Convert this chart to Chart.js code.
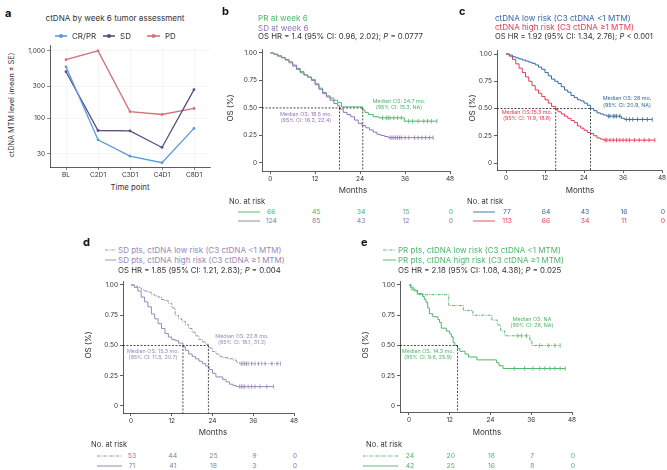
<!DOCTYPE html>
<html>
<head>
<meta charset="utf-8">
<script src="https://cdn.jsdelivr.net/npm/chart.js@4.4.0/dist/chart.umd.min.js"></script>
<style>
  body { margin: 0; width: 667px; height: 470px; overflow: hidden; position: relative; background: #fff;
         font-family: Inter, "DejaVu Sans", sans-serif; color: #333; }
  .t { position: absolute; white-space: nowrap; line-height: 1; }
  canvas, svg { position: absolute; }
</style>
</head>
<body>
<script>
// ---- panel a: ctDNA by week 6 tumor assessment ----
const timePoints = ['BL', 'C2D1', 'C3D1', 'C4D1', 'C8D1'];
const crprMean = [580, 48, 27.5, 22, 71];
const sdMean = [490, 66, 65, 37, 267];
const pdMean = [740, 1000, 126, 114, 140];
const mtmTicks = [30, 100, 300, 1000];

// ---- shared KM axes ----
const monthTicks = [0, 12, 24, 36, 48];
const osTicks = [0, 0.25, 0.5, 0.75, 1];

// ---- panel b: PR vs SD at week 6 ----
const bPrT = [0, 1, 2, 3, 4, 5, 6, 7, 8, 9, 10, 11, 12, 13, 14, 15, 16, 17, 18, 19, 24.7, 25.3, 26.2, 27.5, 29, 35.8];
const bPrS = [1, 0.985, 0.97, 0.955, 0.935, 0.91, 0.88, 0.85, 0.82, 0.8, 0.78, 0.76, 0.72, 0.68, 0.64, 0.61, 0.59, 0.57, 0.55, 0.51, 0.48, 0.46, 0.44, 0.42, 0.41, 0.38];
const bPrCens = [30, 31, 31.5, 32, 33, 34, 35, 37, 38, 39.5, 41, 42, 43, 44.5];
const bSdT = [0, 1, 2, 3, 4, 5, 6, 7, 8, 9, 10, 11, 12, 13, 14, 15, 16, 17, 18, 18.5, 19.5, 20.5, 21.5, 22.5, 23.5, 24.5, 25.5, 26.5, 27.5, 28.5, 29.5, 30.5, 31.5];
const bSdS = [1, 0.99, 0.975, 0.96, 0.94, 0.92, 0.89, 0.86, 0.83, 0.8, 0.78, 0.75, 0.71, 0.67, 0.63, 0.6, 0.57, 0.54, 0.52, 0.49, 0.46, 0.44, 0.42, 0.39, 0.36, 0.34, 0.32, 0.3, 0.28, 0.26, 0.25, 0.24, 0.23];
const bSdCens = [32, 32.5, 33, 33.5, 34, 34.5, 35, 36, 37, 38.5, 39.5, 40.5, 41.5, 42.5, 43.5];
const bMedians = [18.5, 24.7];
const bPrRisk = [66, 45, 34, 15, 0];
const bSdRisk = [124, 85, 43, 12, 0];

// ---- panel c: ctDNA low vs high risk ----
const cLowT = [0, 1, 2, 3, 4, 5, 6, 7, 8, 9, 10, 11, 12, 13, 14, 15, 16, 17, 18, 19, 20, 21, 22, 23, 24, 25, 26, 27, 28, 29, 30, 31, 35.5, 36.5];
const cLowS = [1, 0.99, 0.975, 0.965, 0.955, 0.945, 0.935, 0.925, 0.915, 0.9, 0.88, 0.86, 0.83, 0.8, 0.77, 0.75, 0.73, 0.7, 0.67, 0.65, 0.62, 0.6, 0.58, 0.57, 0.55, 0.53, 0.5, 0.48, 0.46, 0.45, 0.44, 0.43, 0.41, 0.4];
const cLowCens = [31.5, 32, 33, 33.5, 34, 35, 37, 38, 39, 40.5, 42, 43.5, 45];
const cHighT = [0, 1, 2, 3, 4, 5, 6, 7, 8, 9, 10, 11, 12, 13, 14, 15.3, 16, 17, 18, 19, 20, 21, 22, 23, 24, 25, 26, 27, 28, 29, 30];
const cHighS = [1, 0.98, 0.95, 0.91, 0.87, 0.83, 0.79, 0.75, 0.71, 0.67, 0.64, 0.61, 0.58, 0.55, 0.52, 0.49, 0.47, 0.45, 0.43, 0.41, 0.39, 0.37, 0.34, 0.32, 0.3, 0.28, 0.27, 0.25, 0.23, 0.22, 0.21];
const cHighCens = [30.5, 31, 32, 33, 34, 35, 36, 37, 38, 39.5, 41, 42.5, 44, 45.8];
const cMedians = [15.3, 26];
const cLowRisk = [77, 64, 43, 16, 0];
const cHighRisk = [113, 66, 34, 11, 0];

// ---- panel d: SD pts by ctDNA risk ----
const dLowT = [0, 1, 2, 3, 4, 5, 6, 7, 8, 9, 10, 11, 12, 13, 14, 15, 16, 17, 18, 19, 20, 21, 22, 22.8, 24, 25, 26, 27, 28.5, 30, 31, 32];
const dLowS = [1, 0.99, 0.98, 0.96, 0.95, 0.94, 0.92, 0.91, 0.9, 0.88, 0.87, 0.85, 0.81, 0.75, 0.72, 0.7, 0.67, 0.64, 0.61, 0.58, 0.55, 0.53, 0.51, 0.48, 0.45, 0.43, 0.41, 0.4, 0.39, 0.38, 0.36, 0.35];
const dLowCens = [32.5, 33, 33.5, 34, 34.5, 35.5, 36.5, 37.5, 38.5, 39.5, 41.5, 43, 44];
const dHighT = [0, 1, 2, 3, 4, 5, 6, 7, 8, 9, 10, 11, 12, 13, 14, 15.3, 16, 17, 18, 19, 20, 21, 22, 23, 24, 25, 27, 28, 29, 30, 31];
const dHighS = [1, 0.98, 0.95, 0.9, 0.86, 0.82, 0.76, 0.72, 0.68, 0.64, 0.6, 0.57, 0.55, 0.54, 0.52, 0.49, 0.46, 0.43, 0.41, 0.39, 0.37, 0.35, 0.33, 0.3, 0.27, 0.24, 0.22, 0.2, 0.18, 0.17, 0.16];
const dHighCens = [32, 32.5, 33, 33.5, 34.5, 35.5, 36.5, 38, 40, 42];
const dMedians = [15.3, 22.8];
const dLowRisk = [53, 44, 25, 9, 0];
const dHighRisk = [71, 41, 18, 3, 0];

// ---- panel e: PR pts by ctDNA risk ----
const eLowT = [0, 0.8, 2.4, 11.7, 16, 18.8, 24.4, 26, 27, 28.2, 35.6, 36.2];
const eLowS = [1, 0.96, 0.92, 0.83, 0.79, 0.75, 0.71, 0.67, 0.62, 0.58, 0.54, 0.5];
const eLowCens = [32, 33.2, 34.6, 38.5, 41, 43, 44.5];
const eHighT = [0, 0.5, 1.5, 2.5, 4, 4.5, 5, 5.5, 6, 7, 8.5, 9, 9.5, 11, 12, 12.5, 13, 13.5, 14.3, 15, 16.5, 17.5, 20, 25.8, 26.5, 27.7];
const eHighS = [1, 0.976, 0.952, 0.929, 0.905, 0.881, 0.857, 0.81, 0.762, 0.738, 0.714, 0.69, 0.643, 0.619, 0.595, 0.571, 0.524, 0.5, 0.476, 0.452, 0.429, 0.405, 0.381, 0.357, 0.333, 0.31];
const eHighCens = [31, 34, 36.5, 38.5, 40, 41.5, 43, 44.5, 46];
const eMedians = [14.3];
const eLowRisk = [24, 20, 18, 7, 0];
const eHighRisk = [42, 25, 16, 8, 0];

const GREEN = '#4fb56a', PURPLE = '#9277b8', BLUE = '#3569a3', RED = '#e63a55', LAV = '#9a87b6';
const FONT = 'Inter';

function txt(x, y, s, o = {}) {
  const d = document.createElement('div');
  d.className = 't';
  d.innerHTML = s;
  d.style.left = x + 'px';
  d.style.top = y + 'px';
  d.style.fontSize = (o.size || 8) + 'px';
  if (o.color) d.style.color = o.color;
  if (o.bold) d.style.fontWeight = 'bold';
  const ax = o.align === 'center' ? '-50%' : o.align === 'right' ? '-100%' : '0';
  d.style.transform = 'translate(' + ax + ',-50%)' + (o.rot ? ' rotate(-90deg)' : '');
  document.body.appendChild(d);
  return d;
}

function sample(x1, x2, y, color, dash, dot) {
  const ns = 'http://www.w3.org/2000/svg';
  const svg = document.createElementNS(ns, 'svg');
  svg.setAttribute('width', x2 - x1 + 4);
  svg.setAttribute('height', 8);
  svg.style.left = (x1 - 2) + 'px';
  svg.style.top = (y - 4) + 'px';
  const l = document.createElementNS(ns, 'line');
  l.setAttribute('x1', 2); l.setAttribute('x2', x2 - x1 + 2);
  l.setAttribute('y1', 4); l.setAttribute('y2', 4);
  l.setAttribute('stroke', color);
  l.setAttribute('stroke-width', dot ? 1.6 : 0.9);
  if (dash) l.setAttribute('stroke-dasharray', dash);
  svg.appendChild(l);
  if (dot) {
    const c = document.createElementNS(ns, 'circle');
    c.setAttribute('cx', (x2 - x1) / 2 + 2); c.setAttribute('cy', 4); c.setAttribute('r', 2);
    c.setAttribute('fill', color);
    svg.appendChild(c);
  }
  document.body.appendChild(svg);
}

function makeCanvas(area, yW, xH, padT, padR) {
  const c = document.createElement('canvas');
  const w = area.r - area.l + yW + padR, h = area.b - area.t + padT + xH;
  c.width = w; c.height = h;
  c.style.width = w + 'px'; c.style.height = h + 'px';
  c.style.left = (area.l - yW) + 'px';
  c.style.top = (area.t - padT) + 'px';
  document.body.appendChild(c);
  return c;
}

function stepAt(t, s, x) {
  let v = s[0];
  for (let i = 0; i < t.length; i++) if (t[i] <= x) v = s[i];
  return v;
}

function kmSets(c) {
  const last = c.cens.length ? c.cens[c.cens.length - 1] : c.t[c.t.length - 1];
  const line = c.t.map((t, i) => ({ x: t, y: c.s[i] }));
  line.push({ x: Math.max(last, c.t[c.t.length - 1]), y: c.s[c.s.length - 1] });
  return [
    { data: line, showLine: true, stepped: true, borderColor: c.color, borderWidth: 1,
      pointRadius: 0, borderDash: c.dash || [] },
    { data: c.cens.map(x => ({ x: x, y: stepAt(c.t, c.s, x) })), showLine: false,
      pointStyle: 'line', pointRotation: 90, pointRadius: 2.2,
      pointBorderColor: c.color, pointBorderWidth: 0.8 }
  ];
}

const tickFont = { family: FONT, size: 6.5 };

function kmPanel(p) {
  const yW = 26, xH = 15, padT = 9, padR = 8;
  const canvas = makeCanvas(p.area, yW, xH, padT, padR);
  const sets = [];
  // median reference lines
  const mMax = Math.max(...p.medians);
  sets.push({ data: [{ x: p.xMin, y: 0.5 }, { x: mMax, y: 0.5 }], showLine: true, pointRadius: 0,
              borderColor: '#222', borderWidth: 0.8, borderDash: [2, 1.5] });
  p.medians.forEach(m => {
    sets.push({ data: [{ x: m, y: 0.5 }, { x: m, y: p.yMin }], showLine: true, pointRadius: 0,
                borderColor: '#222', borderWidth: 0.8, borderDash: [2, 1.5] });
  });
  p.curves.forEach(c => sets.push(...kmSets(c)));
  const chart = new Chart(canvas, {
    type: 'scatter',
    data: { datasets: sets },
    options: {
      responsive: false, animation: false, devicePixelRatio: 1,
      layout: { padding: { top: padT, right: padR, left: 0, bottom: 0 } },
      plugins: { legend: { display: false }, tooltip: { enabled: false } },
      scales: {
        x: {
          type: 'linear', min: p.xMin, max: 48,
          afterBuildTicks: s => { s.ticks = monthTicks.map(v => ({ value: v })); },
          afterFit: s => { s.height = xH; },
          grid: { drawOnChartArea: false, tickLength: 3, color: '#333', lineWidth: 0.8 },
          border: { color: '#333', width: 0.8 },
          ticks: { font: tickFont, color: '#333', padding: 1, maxRotation: 0, autoSkip: false }
        },
        y: {
          type: 'linear', min: p.yMin, max: p.yMax,
          afterBuildTicks: s => { s.ticks = osTicks.map(v => ({ value: v })); },
          afterFit: s => { s.width = yW; },
          grid: { drawOnChartArea: false, tickLength: 3, color: '#333', lineWidth: 0.8 },
          border: { color: '#333', width: 0.8 },
          ticks: { font: tickFont, color: '#333', padding: 2, autoSkip: false,
                   callback: v => (v === 0 ? '0' : v.toFixed(2)) }
        }
      }
    }
  });
  // number at risk table, aligned to the month ticks
  const left = p.area.l - yW;
  p.risk.forEach((r, k) => {
    sample(p.riskLine[0], p.riskLine[1], p.riskY[k], r.color, r.dash);
    r.n.forEach((n, i) => {
      const x = left + chart.scales.x.getPixelForValue(monthTicks[i]);
      txt(x + 1, p.riskY[k], String(n), { size: 6.8, align: 'center', color: r.color });
    });
  });
  return chart;
}

// ================= panel a =================
(function () {
  const area = { l: 50, r: 210, t: 45, b: 167 };
  const yW = 28, xH = 14, padT = 5, padR = 8;
  const canvas = makeCanvas(area, yW, xH, padT, padR);
  const series = [
    { label: 'CR/PR', data: crprMean, color: '#5b9bd9' },
    { label: 'SD', data: sdMean, color: '#5d4a80' },
    { label: 'PD', data: pdMean, color: '#d3727a' }
  ];
  new Chart(canvas, {
    type: 'line',
    data: {
      labels: timePoints,
      datasets: series.map(s => ({ label: s.label, data: s.data, borderColor: s.color, backgroundColor: s.color,
        borderWidth: 1.3, pointRadius: 1.4, pointBorderWidth: 0 }))
    },
    options: {
      responsive: false, animation: false, devicePixelRatio: 1,
      layout: { padding: { top: padT, right: padR, left: 0, bottom: 0 } },
      plugins: { legend: { display: false }, tooltip: { enabled: false } },
      scales: {
        x: {
          offset: true,
          afterFit: s => { s.height = xH; },
          grid: { offset: false, color: '#eeeeee', lineWidth: 0.6, tickLength: 3, tickColor: '#333' },
          border: { color: '#333', width: 0.8 },
          ticks: { font: tickFont, color: '#333', padding: 1, maxRotation: 0 }
        },
        y: {
          type: 'logarithmic', min: 19, max: 1185,
          afterBuildTicks: s => { s.ticks = mtmTicks.map(v => ({ value: v })); },
          afterFit: s => { s.width = yW; },
          grid: { color: '#eeeeee', lineWidth: 0.6, tickLength: 3, tickColor: '#333' },
          border: { color: '#333', width: 0.8 },
          ticks: { font: tickFont, color: '#333', padding: 2, callback: v => Number(v).toLocaleString('en-US') }
        }
      }
    }
  });
  txt(5, 13, 'a', { size: 11, bold: true, color: '#111' });
  txt(115, 18, 'ctDNA by week 6 tumor assessment', { size: 8.1, align: 'center' });
  const lx = [[55, 67, 72], [103, 115, 120], [147, 160, 165]];
  series.forEach((s, i) => {
    sample(lx[i][0], lx[i][1], 36, s.color, null, true);
    txt(lx[i][2], 36, s.label, { size: 8 });
  });
  txt(12, 105, 'ctDNA MTM level (mean ± SE)', { size: 7.3, align: 'center', rot: true });
  txt(130, 188, 'Time point', { size: 7.8, align: 'center' });
})();

// ================= panel b =================
kmPanel({
  area: { l: 262, r: 450, t: 49, b: 171 }, xMin: -2.2, yMin: -0.073, yMax: 1.036,
  medians: bMedians,
  curves: [
    { t: bSdT, s: bSdS, cens: bSdCens, color: PURPLE },
    { t: bPrT, s: bPrS, cens: bPrCens, color: GREEN }
  ],
  risk: [{ n: bPrRisk, color: GREEN }, { n: bSdRisk, color: '#8a7a9e' }],
  riskLine: [238, 260], riskY: [212, 221]
});
txt(222, 11, 'b', { size: 11, bold: true, color: '#111' });
txt(258, 18, 'PR at week 6', { size: 8.1, color: GREEN });
txt(258, 28, 'SD at week 6', { size: 8.1, color: PURPLE });
txt(258, 37, 'OS HR = 1.4 (95% CI: 0.96, 2.02); <i>P</i> = 0.0777', { size: 7.8 });
txt(399, 102, 'Median OS: 24.7 mo.', { size: 5.4, align: 'center', color: GREEN });
txt(399, 108, '(95% CI: 15.3, NA)', { size: 5.4, align: 'center', color: GREEN });
txt(306, 115, 'Median OS: 18.5 mo.', { size: 5.4, align: 'center', color: PURPLE });
txt(306, 121, '(95% CI: 16.2, 22.4)', { size: 5.4, align: 'center', color: PURPLE });
txt(353, 190, 'Months', { size: 8, align: 'center' });
txt(230, 108, 'OS (%)', { size: 8, align: 'center', rot: true });
txt(229, 202, 'No. at risk', { size: 7.5 });

// ================= panel c =================
kmPanel({
  area: { l: 497, r: 662, t: 50, b: 170 }, xMin: -2.77, yMin: -0.064, yMax: 1.037,
  medians: cMedians,
  curves: [
    { t: cLowT, s: cLowS, cens: cLowCens, color: BLUE },
    { t: cHighT, s: cHighS, cens: cHighCens, color: RED }
  ],
  risk: [{ n: cLowRisk, color: BLUE }, { n: cHighRisk, color: RED }],
  riskLine: [473, 495], riskY: [212, 221]
});
txt(459, 11, 'c', { size: 11, bold: true, color: '#111' });
txt(495, 18, 'ctDNA low risk (C3 ctDNA &lt;1 MTM)', { size: 8.1, color: BLUE });
txt(495, 27, 'ctDNA high risk (C3 ctDNA ≥1 MTM)', { size: 8.1, color: RED });
txt(495, 37, 'OS HR = 1.92 (95% CI: 1.34, 2.76); <i>P</i> &lt; 0.001', { size: 7.6 });
txt(627, 99, 'Median OS: 26 mo.', { size: 5.4, align: 'center', color: BLUE });
txt(627, 106, '(95% CI: 20.9, NA)', { size: 5.4, align: 'center', color: BLUE });
txt(527, 113, 'Median OS:15.3 mo.', { size: 5.4, align: 'center', color: RED });
txt(527, 119, '(95% CI: 11.9, 18.8)', { size: 5.4, align: 'center', color: RED });
txt(580, 190, 'Months', { size: 8, align: 'center' });
txt(472, 108, 'OS (%)', { size: 8, align: 'center', rot: true });
txt(467, 202, 'No. at risk', { size: 7.5 });

// ================= panel d =================
kmPanel({
  area: { l: 123, r: 294, t: 281, b: 413 }, xMin: -2.35, yMin: -0.058, yMax: 1.033,
  medians: dMedians,
  curves: [
    { t: dLowT, s: dLowS, cens: dLowCens, color: LAV, dash: [3, 1.2, 1, 1.2] },
    { t: dHighT, s: dHighS, cens: dHighCens, color: LAV }
  ],
  risk: [{ n: dLowRisk, color: '#8a7f9a', dash: '3 1.2 1 1.2' }, { n: dHighRisk, color: '#8a7f9a' }],
  riskLine: [97, 122], riskY: [456, 466]
});
txt(83, 242, 'd', { size: 11, bold: true, color: '#111' });
sample(105, 116, 250, LAV, '3 1.2 1 1.2');
sample(105, 116, 260, LAV);
txt(118, 250, 'SD pts, ctDNA low risk (C3 ctDNA &lt;1 MTM)', { size: 8, color: LAV });
txt(118, 260, 'SD pts, ctDNA high risk (C3 ctDNA ≥1 MTM)', { size: 8, color: LAV });
txt(118, 271, 'OS HR = 1.85 (95% CI: 1.21, 2.83); <i>P</i> = 0.004', { size: 7.8 });
txt(242, 337, 'Median OS: 22.8 mo.', { size: 5.4, align: 'center', color: LAV });
txt(242, 343, '(95% CI: 18.1, 31.2)', { size: 5.4, align: 'center', color: LAV });
txt(153, 352, 'Median OS: 15.3 mo.', { size: 5.4, align: 'center', color: LAV });
txt(153, 358, '(95% CI: 11.5, 20.7)', { size: 5.4, align: 'center', color: LAV });
txt(88, 345, 'OS (%)', { size: 8, align: 'center', rot: true });
txt(213, 432, 'Months', { size: 8, align: 'center' });
txt(91, 445, 'No. at risk', { size: 7.5 });

// ================= panel e =================
kmPanel({
  area: { l: 400, r: 572, t: 281, b: 412 }, xMin: -2.65, yMin: -0.05, yMax: 1.033,
  medians: eMedians,
  curves: [
    { t: eLowT, s: eLowS, cens: eLowCens, color: GREEN, dash: [3, 1.2, 1, 1.2] },
    { t: eHighT, s: eHighS, cens: eHighCens, color: GREEN }
  ],
  risk: [{ n: eLowRisk, color: GREEN, dash: '3 1.2 1 1.2' }, { n: eHighRisk, color: GREEN }],
  riskLine: [363, 398], riskY: [456, 466]
});
txt(361, 242, 'e', { size: 11, bold: true, color: '#111' });
sample(383, 396, 250, GREEN, '3 1.2 1 1.2');
sample(383, 396, 260, GREEN);
txt(398, 250, 'PR pts, ctDNA low risk (C3 ctDNA &lt;1 MTM)', { size: 8, color: GREEN });
txt(398, 260, 'PR pts, ctDNA high risk (C3 ctDNA ≥1 MTM)', { size: 8, color: GREEN });
txt(398, 271, 'OS HR = 2.18 (95% CI: 1.08, 4.38); <i>P</i> = 0.025', { size: 7.8 });
txt(532, 320, 'Median OS: NA', { size: 5.4, align: 'center', color: GREEN });
txt(532, 326, '(95% CI: 26, NA)', { size: 5.4, align: 'center', color: GREEN });
txt(428, 352, 'Median OS: 14.3 mo.', { size: 5.4, align: 'center', color: GREEN });
txt(428, 358, '(95% CI: 9.6, 25.9)', { size: 5.4, align: 'center', color: GREEN });
txt(365, 345, 'OS (%)', { size: 8, align: 'center', rot: true });
txt(487, 432, 'Months', { size: 8, align: 'center' });
txt(366, 445, 'No. at risk', { size: 7.5 });
</script>
</body>
</html>
